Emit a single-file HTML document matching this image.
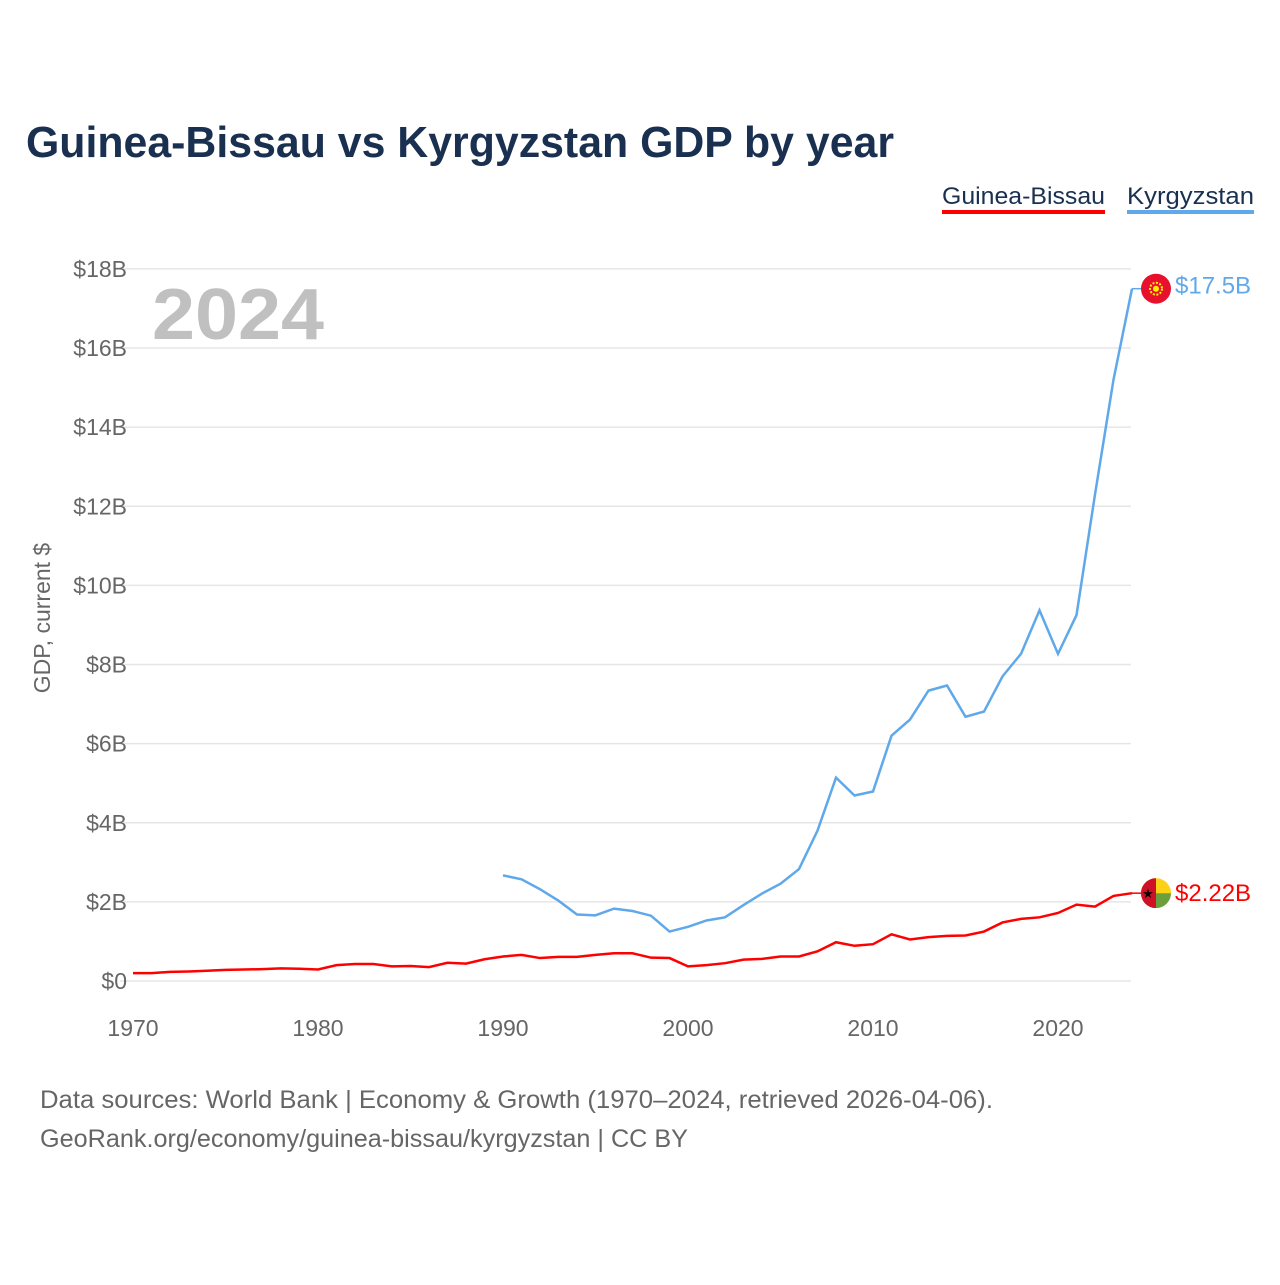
<!DOCTYPE html>
<html><head><meta charset="utf-8"><style>
body{margin:0;background:#fff;width:1280px;height:1280px;overflow:hidden;font-family:"Liberation Sans",sans-serif}
</style></head><body>
<svg id="c" width="1280" height="1280" xmlns="http://www.w3.org/2000/svg">
<text x="26" y="157" font-size="44" font-weight="bold" fill="#1a3050" textLength="868" lengthAdjust="spacingAndGlyphs">Guinea-Bissau vs Kyrgyzstan GDP by year</text>
<g><text x="942" y="204" font-size="24" fill="#1a3050" textLength="163" lengthAdjust="spacingAndGlyphs">Guinea-Bissau</text><rect x="942" y="210" width="163" height="4" fill="#ff0000"/></g>
<g><text x="1127" y="204" font-size="24" fill="#1a3050" textLength="127" lengthAdjust="spacingAndGlyphs">Kyrgyzstan</text><rect x="1127" y="210" width="127" height="4" fill="#5fa8ea"/></g>
<text x="152" y="339" font-size="72" font-weight="bold" fill="#c0c0c0" textLength="172" lengthAdjust="spacingAndGlyphs">2024</text>
<text transform="translate(50,618) rotate(-90)" text-anchor="middle" font-size="23" fill="#666">GDP, current $</text>
<g id="grid"></g><g id="lines"></g><g id="ends"></g>
<text x="40" y="1108" font-size="25" fill="#666" textLength="953" lengthAdjust="spacingAndGlyphs">Data sources: World Bank | Economy &amp; Growth (1970–2024, retrieved 2026-04-06).</text>
<text x="40" y="1147" font-size="25" fill="#666" textLength="648" lengthAdjust="spacingAndGlyphs">GeoRank.org/economy/guinea-bissau/kyrgyzstan | CC BY</text>
</svg>
<script>
const yTicks=[0,2,4,6,8,10,12,14,16,18];
const xTicks=[1970,1980,1990,2000,2010,2020];
const gbYears=[];for(let y=1970;y<=2024;y++)gbYears.push(y);
const gbValues=[0.2,0.2,0.23,0.24,0.26,0.28,0.29,0.3,0.32,0.31,0.29,0.4,0.43,0.43,0.37,0.38,0.35,0.46,0.44,0.55,0.62,0.66,0.58,0.61,0.61,0.66,0.7,0.7,0.59,0.58,0.37,0.4,0.45,0.54,0.56,0.62,0.62,0.75,0.98,0.89,0.93,1.18,1.05,1.11,1.14,1.15,1.25,1.48,1.57,1.61,1.72,1.93,1.88,2.15,2.22];
const kgYears=[];for(let y=1990;y<=2024;y++)kgYears.push(y);
const kgValues=[2.67,2.57,2.32,2.03,1.68,1.66,1.83,1.77,1.65,1.25,1.37,1.53,1.61,1.92,2.21,2.46,2.83,3.8,5.14,4.69,4.79,6.2,6.61,7.34,7.47,6.68,6.81,7.7,8.27,9.37,8.27,9.25,12.3,15.2,17.5];
const endLabels=["$2.22B","$17.5B"];
const NS="http://www.w3.org/2000/svg";
const X=y=>133+(y-1970)*18.5;
const Y=v=>981-v*39.56;
function mk(t,a,p){const e=document.createElementNS(NS,t);for(const k in a)e.setAttribute(k,a[k]);p.appendChild(e);return e;}
const grid=document.getElementById('grid');
yTicks.forEach(v=>{
 const l=mk('line',{x1:120,x2:1131,y1:Y(v),y2:Y(v),stroke:'#e6e6e6','stroke-width':1.5},grid);
 
 
 const t=mk('text',{x:127,y:Y(v)+8,'text-anchor':'end','font-size':23,fill:'#666'},grid);
 t.textContent='$'+v+(v?'B':'');
 
 
});
xTicks.forEach(v=>{
 const t=mk('text',{x:X(v),y:1036,'text-anchor':'middle','font-size':23,fill:'#666'},grid);
 t.textContent=v;
 
 
});
const lines=document.getElementById('lines');
function series(xs,vs,col,name){
 const p=mk('polyline',{points:xs.map((x,i)=>X(x)+','+Y(vs[i])).join(' '),fill:'none',stroke:col,'stroke-width':2.5},lines);
 
 
}
series(gbYears,gbValues,'#ff0000','line-guinea-bissau');
series(kgYears,kgValues,'#5fa8ea','line-kyrgyzstan');
const ends=document.getElementById('ends');
const gy=Y(gbValues[gbValues.length-1]), ky=Y(kgValues[kgValues.length-1]);
mk('line',{x1:1132,x2:1142,y1:gy,y2:gy,stroke:'#ff0000','stroke-width':1.5},ends);
mk('line',{x1:1132,x2:1142,y1:ky,y2:ky,stroke:'#5fa8ea','stroke-width':1.5},ends);
const gf=mk('g',{},ends);
mk('clipPath',{id:'cg'},gf).appendChild(document.createElementNS(NS,'circle'));
const cc=gf.querySelector('circle');cc.setAttribute('cx',1156);cc.setAttribute('cy',gy);cc.setAttribute('r',15);
mk('rect',{x:1141,y:gy-15,width:30,height:15,fill:'#fcd116','clip-path':'url(#cg)'},gf);
mk('rect',{x:1141,y:gy,width:30,height:15,fill:'#6a9f3c','clip-path':'url(#cg)'},gf);
mk('rect',{x:1141,y:gy-15,width:15,height:30,fill:'#ce1126','clip-path':'url(#cg)'},gf);
const st=mk('text',{x:1148,y:gy+5,'font-size':13,'text-anchor':'middle'},gf);st.textContent='★';
const kf=mk('g',{},ends);
mk('circle',{cx:1156,cy:ky,r:15,fill:'#e8112d'},kf);
mk('circle',{cx:1156,cy:ky,r:6,fill:'none',stroke:'#ffef00','stroke-width':2,'stroke-dasharray':'2 1.5'},kf);
mk('circle',{cx:1156,cy:ky,r:3,fill:'#ffef00'},kf);
const t1=mk('text',{x:1175,y:gy+8,'font-size':24,fill:'#ff0000'},ends);t1.textContent=endLabels[0];


const t2=mk('text',{x:1175,y:ky+5,'font-size':24,fill:'#5fa8ea'},ends);t2.textContent=endLabels[1];


</script>
</body></html>
